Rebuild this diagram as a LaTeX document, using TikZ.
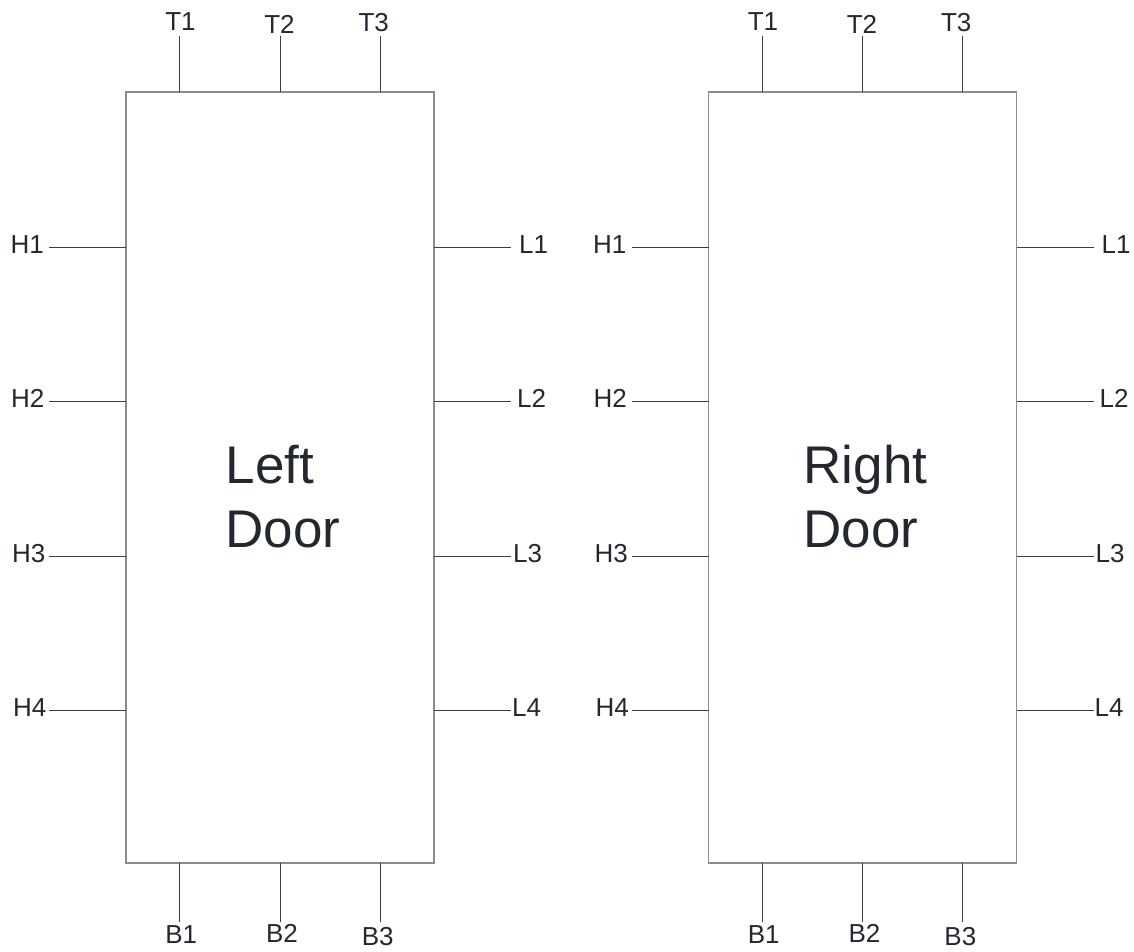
\documentclass[tikz,border=0pt]{standalone}
\usepackage{fontspec}
\setmainfont{Liberation Sans}
\definecolor{boxgray}{HTML}{8A8C8F}
\definecolor{pindark}{HTML}{3A3F45}
\definecolor{txtcol}{HTML}{22282E}
\tikzset{
  doorbox/.style={draw=boxgray, line width=1.3pt, minimum width=308pt, minimum height=771pt, inner sep=0pt, outer sep=0pt, anchor=north west},
  pinline/.style={draw=pindark, line width=1pt},
  pinlabel/.style={font=\fontsize{26}{30}\selectfont, text=txtcol, inner sep=0pt, anchor=base},
  pinlabelw/.style={pinlabel, anchor=base west},
  doorlabel/.style={font=\fontsize{53}{64}\selectfont, text=txtcol, align=left, inner sep=0pt, anchor=center},
}
\newcommand\drawdoorunit[3]{%
  \begin{scope}[shift={(#2,0)}]
    \node[doorbox] (#1box) at (0,92) {};
    \node[doorlabel] (#1txt) at (157,497) {#3};
    % top pins
    \coordinate (#1t1) at (53.7,36.5);
    \coordinate (#1t2) at (154,36.5);
    \coordinate (#1t3) at (254.3,36.5);
    \draw[pinline] (#1box.north west -| #1t1) -- (#1t1);
    \draw[pinline] (#1box.north west -| #1t2) -- (#1t2);
    \draw[pinline] (#1box.north west -| #1t3) -- (#1t3);
    \node[pinlabel] (#1T1) at (54.5,31) {T1};
    \node[pinlabel] (#1T2) at (153.5,34) {T2};
    \node[pinlabel] (#1T3) at (247.7,32) {T3};
    % bottom pins
    \coordinate (#1b1) at (53.7,922);
    \coordinate (#1b2) at (154,922);
    \coordinate (#1b3) at (254.3,922);
    \draw[pinline] (#1box.south west -| #1b1) -- (#1b1);
    \draw[pinline] (#1box.south west -| #1b2) -- (#1b2);
    \draw[pinline] (#1box.south west -| #1b3) -- (#1b3);
    \node[pinlabel] (#1B1) at (55.2,943) {B1};
    \node[pinlabel] (#1B2) at (156,942) {B2};
    \node[pinlabel] (#1B3) at (251.8,945) {B3};
    % left (H) pins
    \coordinate (#1h1) at (-77,247.5);
    \coordinate (#1h2) at (-77,401.9);
    \coordinate (#1h3) at (-77,556.3);
    \coordinate (#1h4) at (-77,710.7);
    \draw[pinline] (#1box.north west |- #1h1) -- (#1h1);
    \draw[pinline] (#1box.north west |- #1h2) -- (#1h2);
    \draw[pinline] (#1box.north west |- #1h3) -- (#1h3);
    \draw[pinline] (#1box.north west |- #1h4) -- (#1h4);
    \node[pinlabelw] (#1H1) at (-115.5,253.5) {H1};
    \node[pinlabelw] (#1H2) at (-115,407.9) {H2};
    \node[pinlabelw] (#1H3) at (-114,562.3) {H3};
    \node[pinlabelw] (#1H4) at (-113,716.7) {H4};
    % right (L) pins
    \coordinate (#1l1) at (385,247.5);
    \coordinate (#1l2) at (385,401.9);
    \coordinate (#1l3) at (385,556.3);
    \coordinate (#1l4) at (385,710.7);
    \draw[pinline] (#1box.north east |- #1l1) -- (#1l1);
    \draw[pinline] (#1box.north east |- #1l2) -- (#1l2);
    \draw[pinline] (#1box.north east |- #1l3) -- (#1l3);
    \draw[pinline] (#1box.north east |- #1l4) -- (#1l4);
    \node[pinlabelw] (#1L1) at (393,253.5) {L1};
    \node[pinlabelw] (#1L2) at (391,407.9) {L2};
    \node[pinlabelw] (#1L3) at (387,562.3) {L3};
    \node[pinlabelw] (#1L4) at (386,716.7) {L4};
  \end{scope}}
\begin{document}
\begin{tikzpicture}[x=1pt,y=-1pt]
  \useasboundingbox (0,0) rectangle (1134,952);
  \drawdoorunit{ld}{126}{Left\\Door}
  \drawdoorunit{rd}{708.5}{Right\\Door}
\end{tikzpicture}
\end{document}
